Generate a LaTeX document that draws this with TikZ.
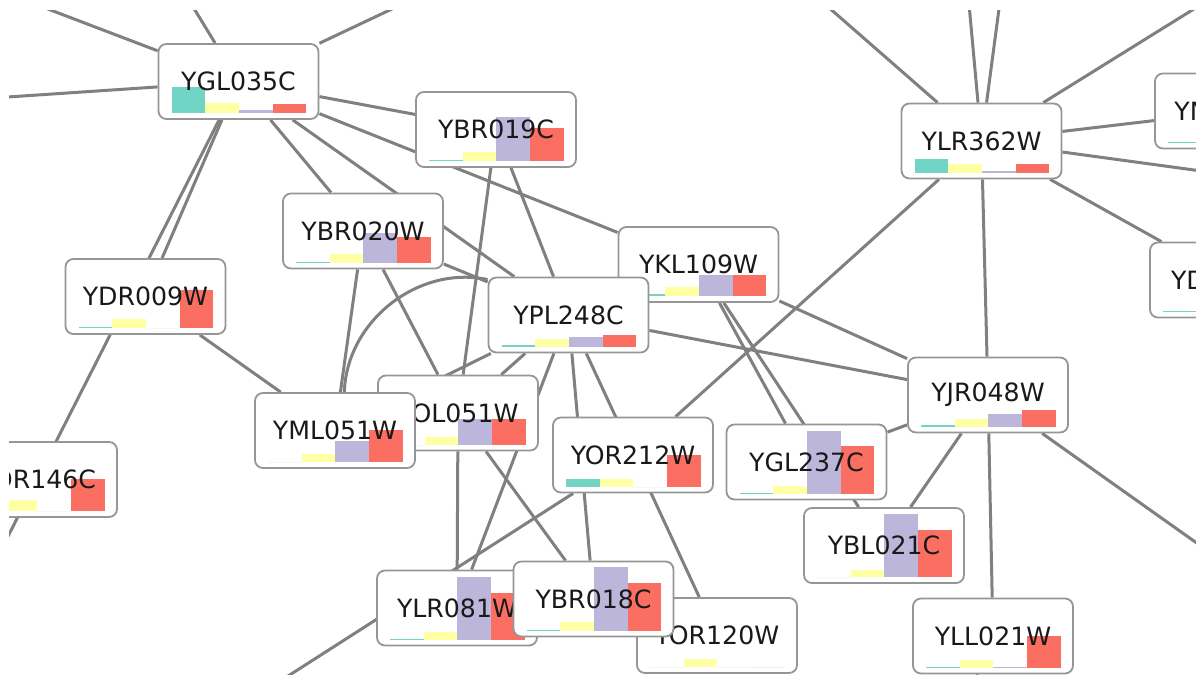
\documentclass[tikz,border=0pt]{standalone}
\usepackage{fontspec}
\newfontfamily\genefont{DejaVu Sans}
\usetikzlibrary{positioning}
\pgfdeclarelayer{edges}
\pgfsetlayers{edges,main}

\begin{document}
\begin{tikzpicture}[
  x=0.5pt, y=-0.5pt,
  bars/.code={\def\barvals{#1}},
  gene/.style={draw=boxgray, fill=white, rounded corners=4pt, line width=0.9pt,
    minimum width=80pt, minimum height=37.5pt, inner sep=0pt,
    font=\genefont\fontsize{12.6}{15}\selectfont, text=black!90,
    path picture={
      \foreach \h [count=\i] in \barvals
        \fill[bar\i, sharp corners] ([shift={({13+(\i-1)*33.7},-6)}]path picture bounding box.south west) rectangle ++(33.7,-\h);
    }},
  link/.style={draw=edgegray, line width=1.5pt}
]

\definecolor{boxgray}{RGB}{150,150,150}
\definecolor{edgegray}{RGB}{128,128,128}
\definecolor{bar1}{RGB}{114,212,196}
\definecolor{bar2}{RGB}{255,255,163}
\definecolor{bar3}{RGB}{189,182,219}
\definecolor{bar4}{RGB}{251,111,98}

\useasboundingbox (0,0) rectangle (1196,675);
\clip (9,10) rectangle (1196,675);

% genes (later ones lie on top)
\node[gene, bars={26,10,3,9}] (YGL035C) at (238.5,81.5) {YGL035C};
\node[gene, bars={0.8,9,44,33}] (YBR019C) at (496,129.5) {YBR019C};
\node[gene, bars={14,9,2,9}] (YLR362W) at (981.5,141) {YLR362W};
\node[gene, bars={0.8,9,0,38}] (YDR009W) at (145.5,296.5) {YDR009W};
\node[gene, bars={0.8,9,30,26}] (YBR020W) at (363,231) {YBR020W};
\node[gene, bars={0,8,26,26}] (YOL051W) at (458,413) {YOL051W};
\node[gene, bars={0,8,21,32}] (YML051W) at (335,430.5) {YML051W};
\node[gene, bars={2,9,21,21}] (YKL109W) at (698.5,264.5) {YKL109W};
\node[gene, bars={2,8,10,12}] (YPL248C) at (568.5,315) {YPL248C};
\node[gene, bars={1.5,8,13,17}] (YJR048W) at (988,395) {YJR048W};
\node[gene, bars={8,8,0,32}] (YOR212W) at (633,455) {YOR212W};
\node[gene, bars={0.8,8,63,48}] (YGL237C) at (806.5,462) {YGL237C};
\node[gene, bars={0,7,63,47}] (YBL021C) at (884,545.5) {YBL021C};
\node[gene, bars={1,8,0.8,32}] (YLL021W) at (993,636) {YLL021W};
\node[gene, bars={0.8,8,63,47}] (YLR081W) at (457,608) {YLR081W};
\node[gene, bars={0,8,0,0}] (YOR120W) at (717,635.5) {YOR120W};
\node[gene, bars={0.8,9,64,48}] (YBR018C) at (593.5,599) {YBR018C};
\node[gene, bars={0,11,0,32}] (YDR146C) at (37,479.5) {YDR146C};
\node[gene, bars={0.8,0,0,0}] (YNL132W) at (1235,111) {YNL132W};
\node[gene, bars={0.8,0,0,0}] (YDR087C) at (1230,280) {YDR087C};

% ends that leave the picture
\coordinate (oa) at (-44,-26);
\coordinate (ob) at (173,-26);
\coordinate (oc) at (466,-26);
\coordinate (od) at (-37,100);
\coordinate (oe) at (-75,700);
\coordinate (of) at (221,719);
\coordinate (og) at (1294,612);
\coordinate (oh) at (787,-29);
\coordinate (oi) at (966,-29);
\coordinate (oj) at (1004,-29);
\coordinate (ok) at (1255,-29);
\coordinate (ol) at (1260,179);
\coordinate (om) at (960,720);

\begin{pgfonlayer}{edges}
\fill[white] (0,0) rectangle (1196,675);
\clip (9,10) rectangle (1196,675);
% YGL035C
\draw[link] (YGL035C) -- (oa);
\draw[link] (YGL035C) -- (ob);
\draw[link] (YGL035C) -- (oc);
\draw[link] (YGL035C) -- (od);
\draw[link] (YGL035C) -- (oe);
\draw[link] (YGL035C) -- (YBR019C);
\draw[link] (YGL035C) -- (YKL109W);
\draw[link] (YGL035C) -- (YBR020W);
\draw[link] (YGL035C) -- (YPL248C);
\draw[link] (YGL035C) -- (YDR009W);
% YBR019C, YBR020W, YDR009W
\draw[link] (YBR019C) -- (YOL051W);
\draw[link] (YBR019C) -- (YPL248C);
\draw[link] (YBR020W) -- (YML051W);
\draw[link] (YBR020W) -- (YOL051W);
\draw[link] (YBR020W) -- (YPL248C);
\draw[link] (YDR009W) -- (YML051W);
% YML051W, YOL051W
\draw[link] (YML051W) -- (YPL248C);
\draw[link] (YML051W) to[bend left=50] (YPL248C);
\draw[link] (YOL051W) -- (YPL248C);
\draw[link] (YOL051W) -- (YLR081W);
\draw[link] (YOL051W) -- (YBR018C);
% YPL248C
\draw[link] (YPL248C) -- (YLR081W);
\draw[link] (YPL248C) -- (YBR018C);
\draw[link] (YPL248C) -- (YOR120W);
\draw[link] (YPL248C) -- (YJR048W);
% YKL109W, YOR212W
\draw[link] (YKL109W) -- (YGL237C);
\draw[link] (YKL109W) -- (YBL021C);
\draw[link] (YKL109W) -- (YJR048W);
\draw[link] (YOR212W) -- (of);
\draw[link] (YOR212W) -- (YLR362W);
% YJR048W
\draw[link] (YJR048W) -- (YLR362W);
\draw[link] (YJR048W) -- (YGL237C);
\draw[link] (YJR048W) -- (YBL021C);
\draw[link] (YJR048W) -- (YLL021W);
\draw[link] (YJR048W) -- (og);
\draw[link] (YLL021W) -- (om);
% YLR362W
\draw[link] (YLR362W) -- (oh);
\draw[link] (YLR362W) -- (oi);
\draw[link] (YLR362W) -- (oj);
\draw[link] (YLR362W) -- (ok);
\draw[link] (YLR362W) -- (ol);
\draw[link] (YLR362W) -- (YNL132W);
\draw[link] (YLR362W) -- (YDR087C);
\end{pgfonlayer}

\end{tikzpicture}
\end{document}
